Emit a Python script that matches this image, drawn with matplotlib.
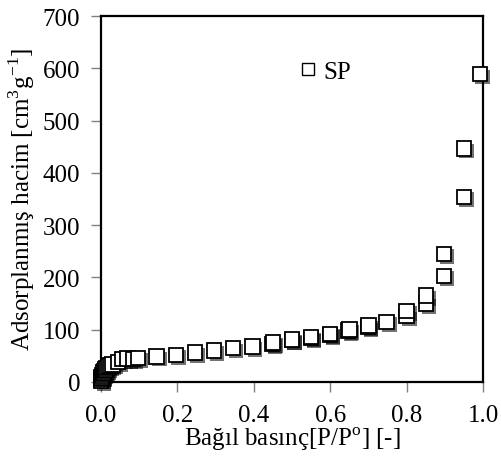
import matplotlib
matplotlib.use("Agg")
from matplotlib import pyplot as plt
import matplotlib.patheffects as pe

# isotherm data
p_rel = [0.0005, 0.001, 0.002, 0.003, 0.005, 0.007, 0.009, 0.012, 0.015, 0.02,
         0.025, 0.03, 0.045, 0.057, 0.07, 0.084, 0.097, 0.146, 0.196, 0.246,
         0.296, 0.346, 0.396, 0.448, 0.50, 0.55, 0.60, 0.647, 0.699, 0.748,
         0.80, 0.80, 0.851, 0.851, 0.898, 0.898, 0.950, 0.950, 0.992,
         0.70, 0.65, 0.60, 0.55, 0.50, 0.45]
volume = [3, 6, 9, 12, 15, 18, 21, 24, 27, 30,
          32, 34, 38, 44, 45, 44, 46, 49, 52, 56,
          60, 65, 68, 73, 80, 84, 90, 98, 105, 115,
          126, 136, 150, 165, 203, 245, 354, 447, 589,
          108, 100, 92, 86, 81, 75]

x_ticks = [0.0, 0.2, 0.4, 0.6, 0.8, 1.0]
y_ticks = [0, 100, 200, 300, 400, 500, 600, 700]

plt.rcParams['font.family'] = ['Liberation Serif', 'DejaVu Serif']
plt.rcParams['mathtext.fontset'] = 'custom'
plt.rcParams['mathtext.rm'] = 'Liberation Serif'

fig = plt.figure(figsize=(5.02, 4.60), dpi=100)
ax = fig.add_axes([101 / 502, 1 - 383 / 460, 382 / 502, 366 / 460])

shadow = [pe.SimplePatchShadow(offset=(2, -2), shadow_rgbFace='k', alpha=0.55),
          pe.Normal()]
ax.plot(p_rel, volume, ls='none', marker='s', ms=10.5, mfc='white',
        mec='black', mew=1.3, path_effects=shadow, clip_on=False, zorder=3)

ax.set_xlim(0, 1.0)
ax.set_ylim(0, 700)
ax.set_xticks(x_ticks)
ax.set_yticks(y_ticks)
ax.set_xticklabels(['%.1f' % t for t in x_ticks])
ax.tick_params(axis='both', direction='out', length=7, width=1, color='0.5',
               labelsize=18, pad=8)
ax.tick_params(axis='x', pad=9)
for s in ax.spines.values():
    s.set_linewidth(1.6)
    s.set_color('black')
    s.set_zorder(2)

ax.set_xlabel(r'Bağıl basınç[P/P$^{\mathrm{o}}$] [-]', fontsize=18, labelpad=-1)
ax.set_ylabel('Adsorplanmış hacim [cm$^{3}$g$^{-1}$]', fontsize=18, labelpad=4)

ax.legend(handles=[plt.Line2D([], [], ls='none', marker='s', ms=9,
                              mfc='white', mec='black', mew=1)],
          labels=['SP'], loc='center left', bbox_to_anchor=(0.47, 0.847),
          frameon=False, fontsize=18, handletextpad=0.0,
          borderpad=0, handlelength=1.2)

fig.savefig('out.png', dpi=100)
